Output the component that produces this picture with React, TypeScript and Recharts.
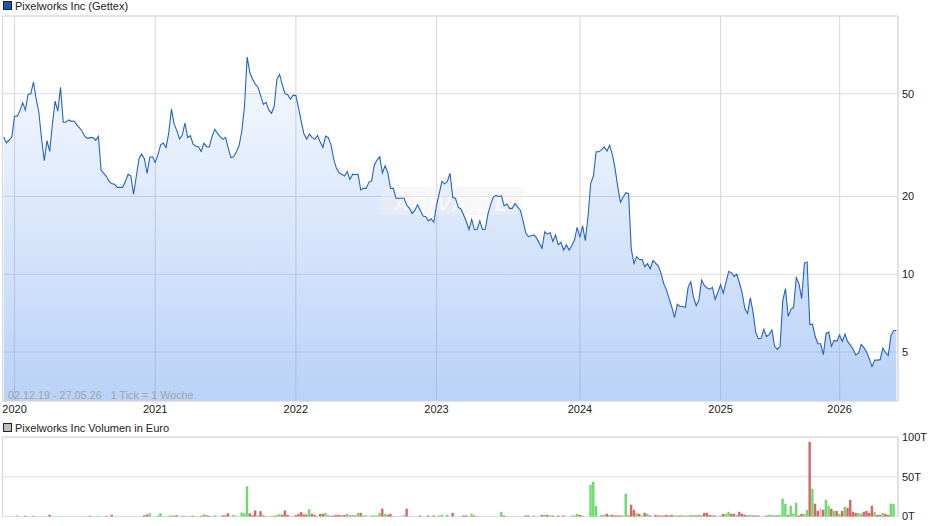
import { Area, AreaChart, Bar, BarChart, CartesianGrid, Line, LineChart, ReferenceLine, XAxis, YAxis } from "recharts";

const prices = [
  34, 32.3, 33.1, 34, 40.9, 40.9, 43, 46.2, 43.2, 49.7, 50, 55.5, 47.7, 42.3, 33.4, 27.5, 32.9, 29.9, 38.2, 46.8,
  42.8, 53, 38.8, 38.8, 39.6, 39.1, 39.2, 37.9, 36.9, 35.8, 34.1, 33.6, 33.8, 33.8, 33, 34.2, 25.3, 24.6, 23.9, 22.9,
  22.4, 22.3, 21.7, 21.7, 21.7, 22.9, 24.4, 24, 20.4, 23.9, 28, 29.2, 28, 24.6, 28.4, 28.5, 27.1, 29, 31.7, 32.2,
  30.9, 35.2, 43.6, 38.2, 36, 33.4, 34.6, 38.5, 33.8, 34.4, 31.9, 31.4, 31.1, 29.9, 32.2, 31.2, 31.1, 34.1, 36.4, 35.2,
  34.1, 33.3, 33.9, 30.8, 28.3, 28.5, 29.8, 31.4, 35.7, 44.6, 69.3, 60.3, 56.9, 54.5, 53, 49.2, 45.5, 46.3, 43.3, 42,
  44.8, 56.9, 59.4, 54, 50, 49.6, 47.6, 49.4, 49.2, 44, 39, 34.9, 33.4, 34.9, 33.9, 33.3, 34.5, 32.5, 31, 34.3,
  33.8, 31.7, 27.9, 25.7, 24.7, 24.4, 24, 25, 23.3, 24.4, 24.3, 24.4, 21.2, 21.5, 21.5, 22.7, 23, 26.5, 27.7, 28.5,
  24.7, 26.3, 24.7, 21.5, 21.5, 19.7, 19.7, 19.7, 19.7, 18.5, 18, 17.2, 17.7, 18.6, 17.7, 16.8, 16.7, 16.1, 16.4, 15.9,
  18.5, 20.5, 22.9, 22.4, 22.9, 24.6, 19.8, 19.7, 18.2, 17.9, 17, 16, 14.9, 16.3, 14.9, 14.9, 16.1, 14.9, 14.9, 17.1,
  18.6, 19.9, 20.2, 20, 20.1, 18.4, 18.7, 18, 18, 18.8, 18.2, 17.7, 16.1, 14.4, 14, 14.1, 14.2, 13.8, 13.2, 12.6,
  14.6, 14.3, 14.5, 13.4, 14.2, 13, 13.3, 12.4, 13, 12.4, 12.9, 13.6, 15.2, 13.9, 15.4, 13.5, 16.7, 22.5, 24, 29.8,
  29.8, 30.3, 31.1, 30, 31.6, 29.1, 25.7, 21.8, 19, 19.9, 20.7, 20.5, 12.5, 11, 11.7, 11.4, 11.4, 10.7, 11, 10.5,
  11.3, 11.05, 10.75, 10.1, 9.2, 8.7, 8.05, 7.45, 6.8, 7.65, 7.5, 7.5, 7.45, 8.9, 9.35, 8.15, 7.55, 7.95, 9.5, 9.05,
  8.85, 8.75, 8.9, 8, 8.5, 9.1, 8.45, 9.3, 10.25, 10.15, 9.8, 10, 9.25, 8.45, 7.35, 7.05, 8.1, 7.15, 5.97, 5.63,
  5.65, 6.13, 5.74, 5.85, 6.08, 5.26, 5.12, 5.26, 7.9, 8.8, 6.87, 7.3, 7.45, 9.7, 9.2, 8.05, 11.05, 11.15, 6.38, 6.41,
  5.74, 5.38, 5.38, 4.88, 5.9, 5.97, 5.26, 5.55, 5.5, 5.82, 5.5, 5.87, 5.48, 5.32, 5.12, 4.87, 4.95, 5.35, 5.2, 5,
  4.7, 4.39, 4.65, 4.65, 4.67, 5.17, 4.98, 4.85, 5.8, 6.06, 6.06,
];

// [week, volume in thousand euro]
const volumeUp = [
  [11, 0.8], [32, 1.3], [35, 0.8], [54, 4.2], [57, 1.3], [58, 4.2], [61, 0.8], [62, 1.7], [66, 0.8], [67, 0.8], [69, 0.8],
  [74, 2.9], [78, 1.7], [85, 2.1], [86, 0.8], [88, 5], [89, 4.2], [90, 38.2], [94, 1.3], [97, 0.8], [99, 0.8], [101, 2.1],
  [102, 2.9], [113, 9.2], [116, 0.8], [119, 4.6], [127, 3.4], [129, 2.1], [131, 4.6], [133, 1.3], [134, 1.3], [136, 1.3],
  [137, 1.3], [138, 1.3], [139, 4.6], [141, 3.4], [144, 0.8], [161, 1.3], [162, 2.1], [164, 2.1], [173, 3.4], [184, 5.9],
  [196, 1.3], [200, 2.1], [202, 1.3], [210, 1.3], [211, 1.3], [212, 3.4], [214, 1.3], [217, 40], [218, 43.7], [219, 13.4],
  [221, 2.1], [222, 2.1], [224, 2.1], [229, 1.3], [230, 28.6], [234, 4.6], [236, 1.3], [238, 3.4], [248, 1.3], [249, 1.3],
  [252, 1.3], [253, 1.3], [254, 2.1], [257, 2.1], [262, 2.1], [265, 1.3], [267, 3.4], [268, 5.9], [271, 2.1], [276, 2.1],
  [283, 2.1], [284, 2.1], [287, 2.1], [288, 22.3], [289, 16], [291, 13.4], [292, 3.4], [293, 17.2], [296, 3.4], [297, 8.4],
  [299, 34.9], [304, 21], [305, 13.4], [307, 7.1], [309, 3.4], [311, 12.2], [316, 4.6], [317, 3.4], [322, 5.9], [325, 4.6],
  [328, 16], [329, 16],
];

const volumeDown = [
  [8, 0.8], [17, 2.1], [38, 0.8], [40, 2.1], [52, 1.7], [53, 2.5], [63, 0.8], [64, 1.7], [70, 0.8], [73, 0.8], [75, 1.7],
  [76, 0.8], [81, 1.7], [82, 1.7], [83, 4.2], [91, 4.2], [92, 1.7], [93, 7.6], [95, 6.7], [96, 1.3], [100, 0.8], [103, 2.1],
  [104, 7.6], [105, 2.1], [108, 1.7], [109, 3.4], [110, 5.5], [111, 2.5], [112, 2.5], [114, 3.4], [115, 2.1], [117, 3.4],
  [118, 3.4], [120, 1.3], [121, 0.8], [122, 1.3], [123, 2.1], [124, 2.1], [125, 1.3], [126, 2.1], [128, 1.3], [130, 1.3],
  [132, 4.6], [140, 9.7], [142, 2.1], [143, 3.4], [149, 9.7], [154, 1.3], [157, 1.3], [159, 1.3], [166, 4.6], [170, 1.3],
  [171, 1.3], [174, 1.3], [185, 1.3], [193, 1.3], [194, 1.3], [199, 2.1], [201, 2.1], [203, 1.3], [205, 1.3], [207, 1.3],
  [213, 2.1], [223, 3.4], [225, 2.1], [226, 1.3], [227, 1.3], [228, 1.3], [231, 1.3], [232, 14.7], [233, 8.4], [235, 3.4],
  [237, 4.6], [239, 1.3], [241, 2.1], [242, 1.3], [243, 1.3], [244, 1.3], [245, 2.1], [246, 1.3], [247, 2.1], [250, 1.3],
  [255, 1.3], [256, 1.3], [258, 1.3], [259, 4.6], [260, 4.6], [261, 2.1], [263, 1.3], [266, 3.4], [269, 3.4], [270, 3.4],
  [272, 5.9], [273, 3.4], [274, 2.1], [275, 1.3], [277, 1.3], [278, 1.3], [279, 1.3], [282, 1.3], [285, 1.3], [286, 1.3],
  [290, 2.1], [294, 1.3], [295, 3.4], [298, 94], [300, 16], [301, 7.1], [303, 8.4], [306, 9.7], [308, 7.1], [310, 7.1],
  [312, 10.9], [313, 21], [314, 5.9], [315, 4.6], [318, 5.9], [319, 7.1], [320, 4.6], [321, 13.4], [323, 2.1], [324, 2.1],
  [326, 3.4], [327, 2.1],
];

const volumeFlat = [
  [5, 1.7], [106, 0.8], [107, 0.8], [147, 0.8], [148, 2.1], [175, 0.8], [188, 0.8], [220, 0.8], [251, 2.1], [302, 9.7],
];

const yearWeeks = [4, 56, 108, 160, 213, 265, 309];
const yearLabels = ["2020", "2021", "2022", "2023", "2024", "2025", "2026"];
const priceTicks = [5, 10, 20, 50];
const volumeTicks = [0, 50, 100];

const FONT = "'Liberation Sans', Arial, sans-serif";
const GRID = "#dcdcdc";
const WEEK_DOMAIN = [-0.45, 330.6];
const PRICE_DOMAIN = [3.23, 100];

const priceRows = prices.map((price, week) => ({ week, price }));

const toMap = (rows: number[][]) => new Map(rows.map(([week, v]) => [week, v]));
const upMap = toMap(volumeUp);
const downMap = toMap(volumeDown);
const flatMap = toMap(volumeFlat);
const volumeRows = prices.map((_, week) => ({
  week,
  up: upMap.get(week),
  down: downMap.get(week),
  flat: flatMap.get(week),
}));

const yearLabel = (week: number) => yearLabels[yearWeeks.indexOf(week)];

const tickStyle = { fontSize: 11, fill: "#222", fontFamily: FONT };

const Legend = ({ top, color, label }: { top: number; color: string; label: string }) => (
  <div style={{ position: "absolute", left: 3, top, height: 12, lineHeight: "12px", fontFamily: FONT, fontSize: 11, color: "#222", whiteSpace: "nowrap" }}>
    <span style={{ position: "absolute", left: 0, top: 1, width: 7, height: 7, background: color, border: "1px solid #222" }} />
    <span style={{ marginLeft: 12 }}>{label}</span>
  </div>
);

const Watermark = () => (
  <svg width={150} height={30} style={{ position: "absolute", left: 377, top: 186, pointerEvents: "none" }}>
    <path d="M10 1 H143 Q148 1 147 5 L142 25 Q141 29 136 29 H5 Q0 29 1 25 L6 5 Q7 1 10 1 Z" fill="#f0f0f0" fillOpacity={0.5} />
    <text x={74} y={25} textAnchor="middle" fontFamily={FONT} fontSize={20} fontStyle="italic" fontWeight="bold" fill="#fff" fillOpacity={0.6} textLength={114}>
      ARIVA.DE
    </text>
  </svg>
);

export default function App() {
  return (
    <div style={{ position: "absolute", left: 0, top: 0, width: 940, height: 526, background: "#fff", overflow: "hidden" }}>
      <Legend top={0} color="#1a56b8" label="Pixelworks Inc (Gettex)" />

      <div style={{ position: "absolute", left: 0, top: 0 }}>
        <AreaChart width={940} height={421} data={priceRows} margin={{ top: 16, right: 0, bottom: 0, left: 2.5 }}>
          <defs>
            <linearGradient id="priceFill" gradientUnits="userSpaceOnUse" x1="0" y1="16" x2="0" y2="401">
              <stop offset="0%" stopColor="#6a9ff0" stopOpacity={0} />
              <stop offset="100%" stopColor="#6a9ff0" stopOpacity={0.47} />
            </linearGradient>
          </defs>
          <CartesianGrid stroke={GRID} strokeWidth={1.2} />
          <ReferenceLine y={PRICE_DOMAIN[1]} stroke={GRID} strokeWidth={1.2} />
          <ReferenceLine x={WEEK_DOMAIN[0]} stroke={GRID} strokeWidth={1.2} />
          <XAxis
            dataKey="week"
            type="number"
            domain={WEEK_DOMAIN}
            ticks={yearWeeks}
            tickFormatter={yearLabel}
            height={20}
            tick={tickStyle}
            tickLine={false}
            tickSize={0}
            tickMargin={4}
            axisLine={{ stroke: GRID, strokeWidth: 1.2 }}
            interval={0}
            allowDataOverflow
          />
          <YAxis
            orientation="right"
            type="number"
            scale="log"
            domain={PRICE_DOMAIN}
            ticks={priceTicks}
            width={42}
            tick={tickStyle}
            tickLine={false}
            tickSize={0}
            tickMargin={4}
            axisLine={{ stroke: GRID, strokeWidth: 1.2 }}
            interval={0}
            allowDataOverflow
          />
          <Area
            dataKey="price"
            type="linear"
            baseValue={PRICE_DOMAIN[0]}
            stroke="none"
            fill="url(#priceFill)"
            fillOpacity={1}
            dot={false}
            activeDot={false}
            isAnimationActive={false}
          />
        </AreaChart>
      </div>

      <Watermark />

      {/* the price line sits in its own layer so it stays above the watermark */}
      <div style={{ position: "absolute", left: 0, top: 0 }}>
        <LineChart width={940} height={421} data={priceRows} margin={{ top: 16, right: 42, bottom: 20, left: 2.5 }}>
          <XAxis dataKey="week" type="number" domain={WEEK_DOMAIN} hide allowDataOverflow />
          <YAxis type="number" scale="log" domain={PRICE_DOMAIN} hide allowDataOverflow />
          <Line dataKey="price" type="linear" stroke="#2463c4" strokeWidth={1.1} dot={false} activeDot={false} isAnimationActive={false} />
        </LineChart>
      </div>

      <div style={{ position: "absolute", left: 8, top: 389, fontFamily: FONT, fontSize: 10.8, lineHeight: "12px", color: "#a3a3a3", whiteSpace: "pre" }}>
        {"02.12.19 - 27.05.26   1 Tick = 1 Woche"}
      </div>

      <Legend top={422} color="#bcbcbc" label="Pixelworks Inc Volumen in Euro" />

      <div style={{ position: "absolute", left: 0, top: 421 }}>
        <BarChart width={940} height={105} data={volumeRows} margin={{ top: 16, right: 0, bottom: 9.5, left: 2.5 }} barGap={0}>
          <CartesianGrid stroke={GRID} strokeWidth={1.2} />
          <ReferenceLine y={100} stroke={GRID} strokeWidth={1.2} />
          <ReferenceLine x={WEEK_DOMAIN[0]} stroke={GRID} strokeWidth={1.2} />
          <XAxis
            dataKey="week"
            type="number"
            domain={WEEK_DOMAIN}
            ticks={yearWeeks}
            height={0}
            tick={false}
            tickLine={false}
            axisLine={{ stroke: GRID, strokeWidth: 1.2 }}
            interval={0}
            allowDataOverflow
          />
          <YAxis
            orientation="right"
            type="number"
            domain={[0, 100]}
            ticks={volumeTicks}
            tickFormatter={(v: number) => `${v}T`}
            width={42}
            tick={tickStyle}
            tickLine={false}
            tickSize={0}
            tickMargin={4}
            axisLine={{ stroke: GRID, strokeWidth: 1.2 }}
            interval={0}
          />
          <Bar dataKey="up" stackId="vol" fill="#6bdc6b" barSize={2.4} isAnimationActive={false} />
          <Bar dataKey="down" stackId="vol" fill="#d96464" barSize={2.4} isAnimationActive={false} />
          <Bar dataKey="flat" stackId="vol" fill="#c4c4c4" barSize={2.4} isAnimationActive={false} />
        </BarChart>
      </div>
    </div>
  );
}
